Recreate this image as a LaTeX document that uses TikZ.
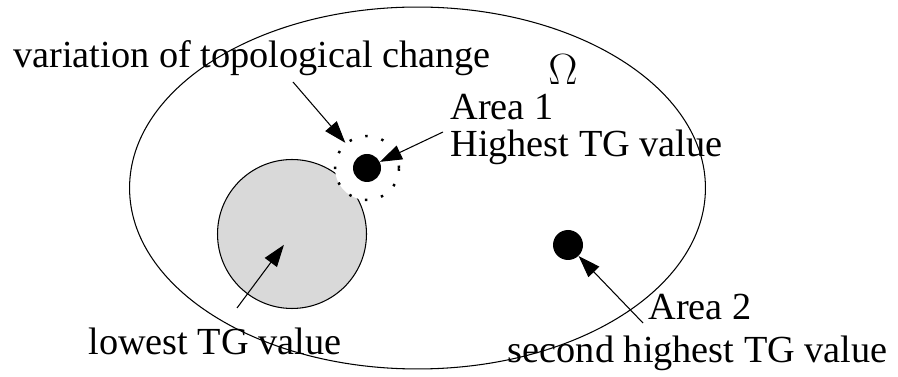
\documentclass[tikz,border=0pt]{standalone}
\usepackage{fontspec}
\setmainfont{Liberation Serif}
\usetikzlibrary{arrows.meta}

\begin{document}
\begin{tikzpicture}[x=0.02cm,y=-0.02cm,
		tgtext/.style={anchor=base west,inner sep=0pt,font=\fontsize{21.8}{26}\selectfont},
		tgarrow/.style={-{Triangle[length=0.44cm,width=0.3cm]},line width=0.6pt},
		tgdot/.style={circle,fill=black,inner sep=0pt,minimum size=0.56cm}]
		\useasboundingbox (0,0) rectangle (898,377);
		% ===== Domain Omega =====
		\draw[line width=0.6pt] (417.5,188) ellipse [x radius=5.76cm, y radius=3.62cm];
		\node[tgtext,font=\fontsize{25}{29}\selectfont] (omega) at (548,85) {$\Omega$};
		% ===== Lowest TG zone =====
		\node[circle,draw,line width=0.6pt,fill=gray!30,minimum size=2.98cm,inner sep=0pt] (lowzone) at (292,234) {};
		% ===== Area 1 with its dotted variation zone =====
		\node[circle,fill=white,draw,line width=1.4pt,dash pattern=on 1.4pt off 8pt,minimum size=1.28cm,inner sep=0pt] (tgzone) at (367,168) {};
		\node[tgdot] (a1dot) at (367,168) {};
		% ===== Area 2 =====
		\node[tgdot,minimum size=0.6cm] (a2dot) at (568,245) {};
		% ===== Labels =====
		\node[tgtext] (varlabel) at (13,68) {variation of topological change};
		\node[tgtext] (area1) at (450,120) {Area 1};
		\node[tgtext] (highest) at (450,157) {Highest TG value};
		\node[tgtext] (lowest) at (88,355) {lowest TG value};
		\node[tgtext] (area2) at (648,320) {Area 2};
		\node[tgtext,anchor=base east] (second) at (888,363) {second highest TG value};
		% arrow tails
		\coordinate (vartail) at (293,82);
		\coordinate (a1tail) at (443,132);
		\coordinate (lowtail) at (237,308);
		\coordinate (a2tail) at (643,323);
		% ===== Arrows =====
		\draw[tgarrow] (vartail) -- (tgzone);
		\draw[tgarrow] (a1tail) -- (a1dot);
		\draw[tgarrow,shorten >=0.27cm] (lowtail) -- (lowzone.center);
		\draw[tgarrow] (a2tail) -- (a2dot);
\end{tikzpicture}
\end{document}
